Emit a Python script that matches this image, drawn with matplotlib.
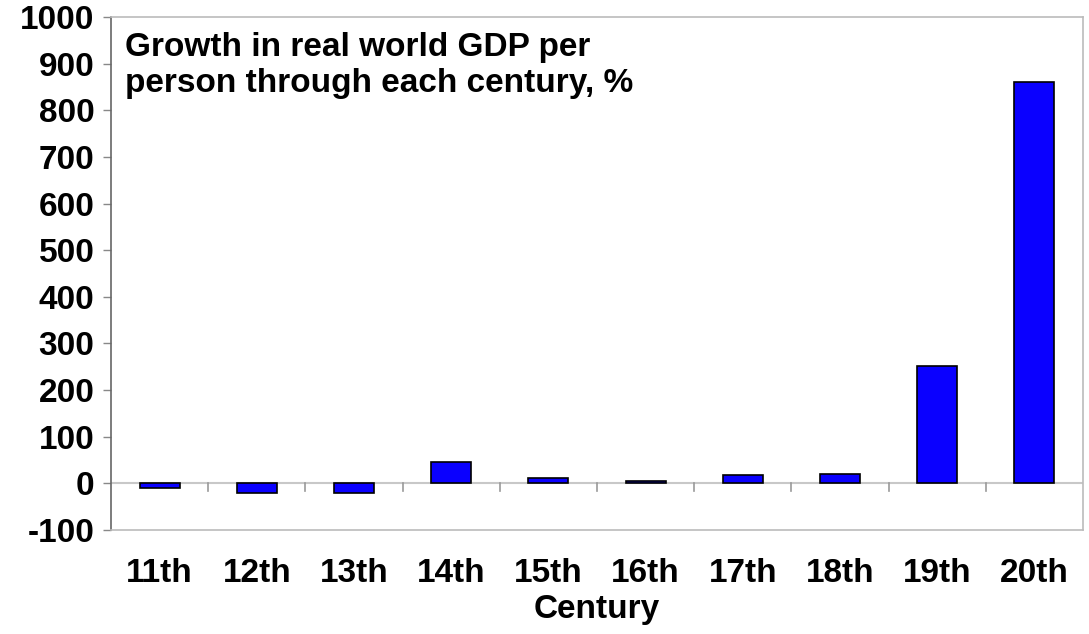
import matplotlib
matplotlib.use("Agg")
import matplotlib.pyplot as plt
import numpy as np

categories = ["11th", "12th", "13th", "14th", "15th", "16th", "17th", "18th", "19th", "20th"]
values = [-10, -21, -21, 45, 11, 6, 19, 21, 251, 860]
yticks = [-100, 0, 100, 200, 300, 400, 500, 600, 700, 800, 900, 1000]

plt.rcParams['font.family'] = ['Liberation Sans', 'DejaVu Sans']
fig = plt.figure(figsize=(10.89, 6.34), dpi=100)
ax = fig.add_axes([111/1089, 1-530/634, (1083-111)/1089, (530-17)/634])

x = np.arange(len(categories))
ax.bar(x, values, width=0.41, color="#0a00ff", edgecolor="black", linewidth=1.2, zorder=3)

ax.set_xlim(-0.5, len(categories) - 0.5)
ax.set_ylim(-100, 1000)
ax.set_yticks(yticks)
ax.set_yticklabels([str(v) for v in yticks], fontsize=24, fontweight='bold')
ax.tick_params(axis='y', direction='out', length=6, width=1, color='#888888', pad=6)

ax.set_xticks(x)
ax.set_xticklabels(categories, fontsize=24, fontweight='bold')
ax.tick_params(axis='x', length=0, pad=20)
ax.set_xlabel("Century", fontsize=24, fontweight='bold', labelpad=4)

# zero line and category separator ticks
ax.axhline(0, color='#c8c8c8', linewidth=1.5, zorder=2)
for b in np.arange(0.5, len(categories) - 0.5, 1.0):
    ax.plot([b, b], [0, -17], color='#999999', linewidth=1.2, zorder=2)

for s in ['top', 'right', 'bottom']:
    ax.spines[s].set_color('#bbbbbb')
    ax.spines[s].set_linewidth(1.2)
ax.spines['left'].set_color('#666666')
ax.spines['left'].set_linewidth(1.2)

ax.text(14/972, 1-15/513, "Growth in real world GDP per\nperson through each century, %",
        transform=ax.transAxes, ha='left', va='top', fontsize=24, fontweight='bold',
        linespacing=1.22)

fig.savefig("out.png", dpi=100)
